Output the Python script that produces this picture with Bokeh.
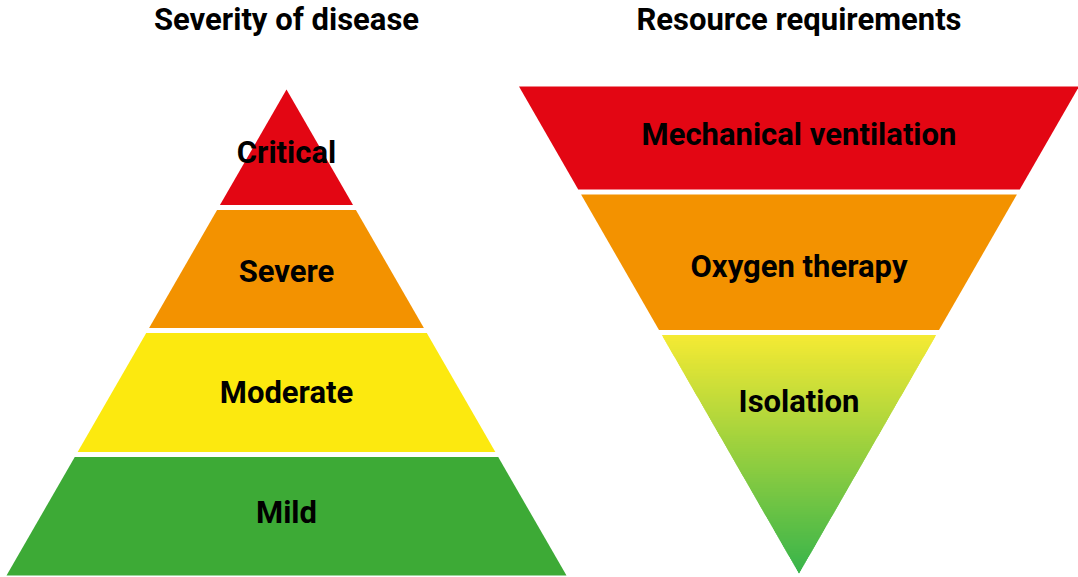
import numpy as np
from bokeh.plotting import figure
from bokeh.models import Range1d
from bokeh.core.properties import value
from bokeh.embed import file_html
from bokeh.resources import INLINE

# ---------------- data ----------------
titles = ["Severity of disease", "Resource requirements"]

severity_labels = ["Critical", "Severe", "Moderate", "Mild"]          # top -> bottom
severity_colors = ["#E30613", "#F39200", "#FCE90F", "#3DAA36"]
severity_shares = [118, 123, 124, 121]                                 # relative band heights

resource_labels = ["Mechanical ventilation", "Oxygen therapy", "Isolation"]  # top -> bottom
resource_colors = ["#E30613", "#F39200", "gradient"]
resource_shares = [105.5, 140.5, 241]                                  # relative band heights
isolation_gradient = ["#F5EA33", "#37B44B"]                            # top -> bottom

# ---------------- layout (reference pixel frame) ----------------
REF_W, REF_H = 1078, 577
GAP = 5
FONT = value("Roboto")
FSIZE = "31px"

left_cx, left_apex_y, left_base_y, left_base_hw = 286, 89, 575, 280
right_cx, right_top_y, right_apex_y, right_top_hw = 798.5, 86, 573, 280
left_label_pos = [0.53, 0.52, 0.5, 0.48]
right_label_pos = [0.455, 0.53, 0.286]
title_y = 19

p = figure(width=REF_W, height=REF_H, x_range=Range1d(0, REF_W), y_range=Range1d(REF_H, 0),
           output_backend="svg", toolbar_location=None, min_border=0)
p.axis.visible = False
p.grid.visible = False
p.outline_line_color = None
p.background_fill_color = "white"
p.border_fill_color = "white"


def boundaries(shares, y_start, y_end):
    s = np.cumsum([0] + list(shares)) / float(sum(shares))
    return [y_start + f * (y_end - y_start) for f in s]


# ---- left upright pyramid ----
def hw_left(y):
    return left_base_hw * (y - left_apex_y) / (left_base_y - left_apex_y)

b = boundaries(severity_shares, left_apex_y, left_base_y)
xs, ys, lx, ly = [], [], [], []
n = len(severity_labels)
for i in range(n):
    top = b[i] + (GAP / 2 if i > 0 else 0)
    bot = b[i + 1] - (GAP / 2 if i < n - 1 else 0)
    xs.append([left_cx - hw_left(top), left_cx + hw_left(top), left_cx + hw_left(bot), left_cx - hw_left(bot)])
    ys.append([top, top, bot, bot])
    lx.append(left_cx)
    ly.append(b[i] + left_label_pos[i] * (b[i + 1] - b[i]))
p.patches(xs, ys, fill_color=severity_colors, line_color=None)
p.text(x=lx, y=ly, text=severity_labels, text_font=FONT, text_font_style="bold",
       text_font_size=FSIZE, text_align="center", text_baseline="middle", text_color="black")


# ---- right inverted pyramid ----
def hw_right(y):
    return right_top_hw * (right_apex_y - y) / (right_apex_y - right_top_y)

def hex_to_rgb(h):
    h = h.lstrip("#")
    return np.array([int(h[k:k + 2], 16) for k in (0, 2, 4)], dtype=float)

b = boundaries(resource_shares, right_top_y, right_apex_y)
n = len(resource_labels)
xs, ys, cols = [], [], []
lx, ly = [], []
for i in range(n):
    top = b[i] + (GAP / 2 if i > 0 else 0)
    bot = b[i + 1] - (GAP / 2 if i < n - 1 else 0)
    if resource_colors[i] == "gradient":
        c0, c1 = hex_to_rgb(isolation_gradient[0]), hex_to_rgb(isolation_gradient[1])
        steps = 120
        edges = np.linspace(top, bot, steps + 1)
        for j in range(steps):
            t0 = edges[j]
            t1 = min(edges[j + 1] + 1.5, bot)   # overlap with next stripe to hide seams
            f = (j + 0.5) / steps
            c = c0 + (c1 - c0) * f
            xs.append([right_cx - hw_right(t0), right_cx + hw_right(t0), right_cx + hw_right(t1), right_cx - hw_right(t1)])
            ys.append([t0, t0, t1, t1])
            cols.append("#%02x%02x%02x" % tuple(int(round(v)) for v in c))
    else:
        xs.append([right_cx - hw_right(top), right_cx + hw_right(top), right_cx + hw_right(bot), right_cx - hw_right(bot)])
        ys.append([top, top, bot, bot])
        cols.append(resource_colors[i])
    lx.append(right_cx)
    ly.append(b[i] + right_label_pos[i] * (b[i + 1] - b[i]))
p.patches(xs, ys, fill_color=cols, line_color=None)
p.text(x=lx, y=ly, text=resource_labels, text_font=FONT, text_font_style="bold",
       text_font_size=FSIZE, text_align="center", text_baseline="middle", text_color="black")

# ---- titles ----
p.text(x=[left_cx, right_cx], y=[title_y, title_y], text=titles, text_font=FONT,
       text_font_style="bold", text_font_size=FSIZE, text_align="center",
       text_baseline="middle", text_color="black")

open("out.html", "w").write(file_html(p, INLINE))
